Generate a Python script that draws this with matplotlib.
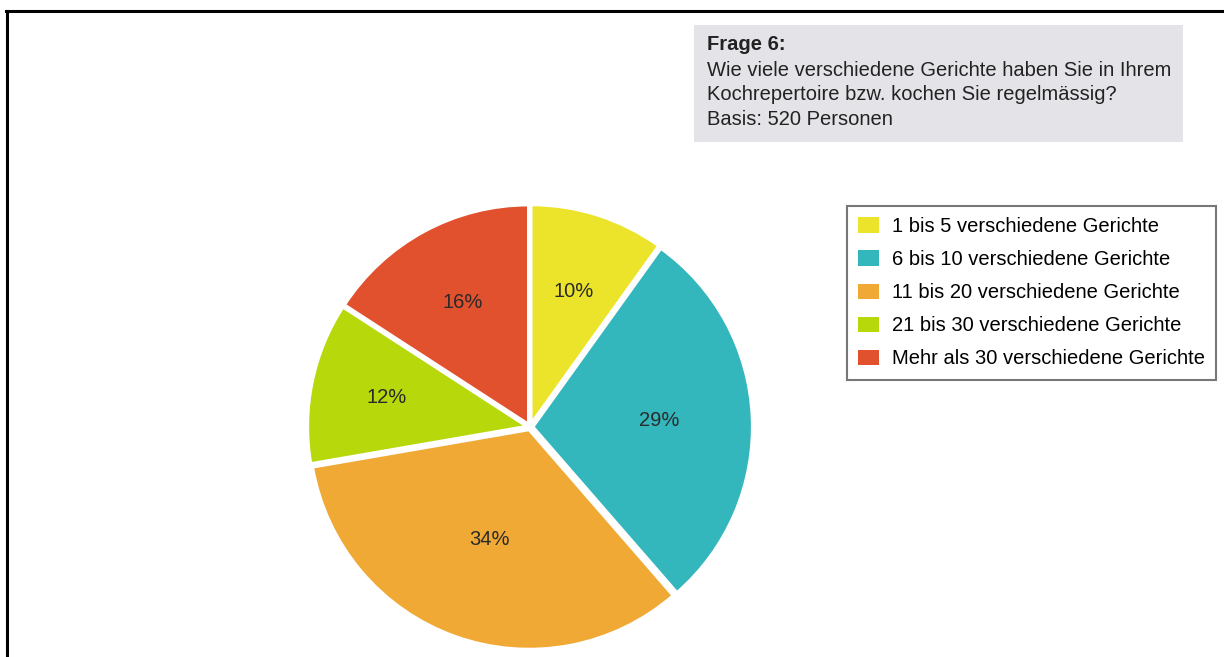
import numpy as np
import matplotlib.pyplot as plt
from matplotlib.lines import Line2D
from matplotlib.patches import Rectangle

plt.rcParams["font.family"] = ["Liberation Sans", "DejaVu Sans"]

# data
categories = [
    "1 bis 5 verschiedene Gerichte",
    "6 bis 10 verschiedene Gerichte",
    "11 bis 20 verschiedene Gerichte",
    "21 bis 30 verschiedene Gerichte",
    "Mehr als 30 verschiedene Gerichte",
]
shares = [10, 29, 34, 12, 16]
colors = ["#ECE42A", "#33B6BC", "#F0A935", "#B7D80A", "#E2512E"]

question_title = "Frage 6:"
question_text = ("Wie viele verschiedene Gerichte haben Sie in Ihrem\n"
                 "Kochrepertoire bzw. kochen Sie regelmässig?\n"
                 "Basis: 520 Personen")

W, H = 1224, 657
FS = 14.5
fig = plt.figure(figsize=(W / 100, H / 100), dpi=100)

# pie: center ~ (530, 427) px, radius ~ 220 px
lim = 1.05
size = 220 * lim * 2
cx, cy = 530, H - 427
ax = fig.add_axes([(cx - size / 2) / W, (cy - size / 2) / H, size / W, size / H])
total = sum(shares)
wedges, texts, autotexts = ax.pie(
    shares, colors=colors, startangle=90, counterclock=False,
    explode=[0.012] * len(shares),
    autopct=lambda p: f"{p * total / 100:.0f}%", pctdistance=0.64,
    wedgeprops=dict(edgecolor="white", linewidth=2.5),
    textprops=dict(fontsize=FS, color="#2a2a2a"),
)
# bigger slices carry their label a bit closer to the centre
label_r = [0.645, 0.59, 0.545, 0.665, 0.645]
for w, t, r in zip(wedges, autotexts, label_r):
    a = np.deg2rad((w.theta1 + w.theta2) / 2)
    t.set_position((r * np.cos(a), r * np.sin(a)))
ax.set_xlim(-lim, lim)
ax.set_ylim(-lim, lim)
ax.set_aspect("equal")
ax.axis("off")

# legend box
leg = fig.legend(
    wedges, categories, loc="upper left",
    bbox_to_anchor=(847 / W, 1 - 206 / H), fontsize=FS,
    frameon=True, fancybox=False, edgecolor="#555555",
    handlelength=1.05, handleheight=0.8, handletextpad=0.65,
    labelspacing=0.7, borderpad=0.55, borderaxespad=0,
)
leg.get_frame().set_linewidth(1.5)
for h in leg.legend_handles:
    h.set_edgecolor("none")

# question box
fig.patches.append(Rectangle((694 / W, 1 - 142 / H), (1183 - 694) / W, (142 - 25) / H,
                             transform=fig.transFigure, facecolor="#E4E4E8",
                             edgecolor="none"))
fig.text(707 / W, 1 - 45 / H, question_title, fontsize=FS, fontweight="bold",
         color="#222222", va="center")
fig.text(707 / W, 1 - 61 / H, question_text, fontsize=FS, color="#222222",
         va="top", linespacing=1.36)

# outer frame (top and left only)
fig.lines.append(Line2D([6 / W, 1], [1 - 11 / H, 1 - 11 / H], transform=fig.transFigure,
                        color="black", linewidth=2.2))
fig.lines.append(Line2D([7 / W, 7 / W], [0, 1 - 11 / H], transform=fig.transFigure,
                        color="black", linewidth=2.2))

fig.savefig("out.png", dpi=100)
